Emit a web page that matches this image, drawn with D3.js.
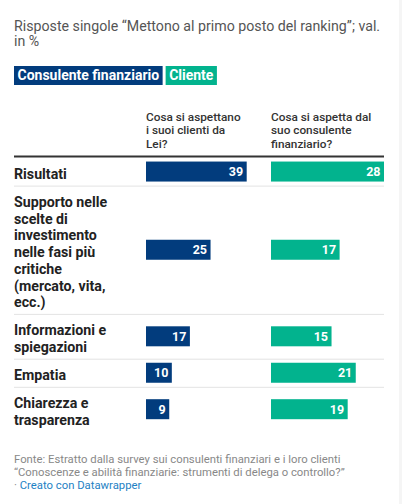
<!DOCTYPE html>
<html>
<head>
<meta charset="utf-8">
<script src="https://cdn.jsdelivr.net/npm/d3@7"></script>
<style>
  html, body { margin: 0; padding: 0; background: #fff; }
  svg { display: block; font-family: Roboto, "Noto Sans", sans-serif; }
</style>
</head>
<body>
<svg id="chart" width="402" height="504"></svg>
<script>
// ---- data ----
const subtitleLines = ["Risposte singole \u201cMettono al primo posto del ranking\u201d; val.", "in %"];
const seriesNames = ["Consulente finanziario", "Cliente"];
const columnHeaders = ["Cosa si aspettano\ni suoi clienti da\nLei?", "Cosa si aspetta dal\nsuo consulente\nfinanziario?"];
const categories = [
  "Risultati",
  "Supporto nelle\nscelte di\ninvestimento\nnelle fasi più\ncritiche\n(mercato, vita,\necc.)",
  "Informazioni e\nspiegazioni",
  "Empatia",
  "Chiarezza e\ntrasparenza"
];
const consulenteValues = [39, 25, 17, 10, 9];
const clienteValues = [28, 17, 15, 21, 19];
const footerLines = [
  "Fonte: Estratto dalla survey sui consulenti finanziari e i loro clienti",
  "\u201cConoscenze e abilità finanziarie: strumenti di delega o controllo?\u201d"
];
const creditText = "Creato con Datawrapper";

// ---- style ----
const colors = ["#023c7d", "#02b38e"];
const svg = d3.select("#chart");

svg.append("rect").attr("x", 0).attr("y", 0).attr("width", 402).attr("height", 504).attr("fill", "#fff");
svg.append("rect").attr("x", 399).attr("y", 0).attr("width", 3).attr("height", 504).attr("fill", "#f5f5f5");

// subtitle
svg.append("text")
  .attr("x", 14).attr("y", 30.5)
  .attr("fill", "#555").attr("font-size", 14.2)
  .selectAll("tspan").data(subtitleLines).join("tspan")
  .attr("x", 14).attr("dy", (d, i) => i ? 15.5 : 0)
  .text(d => d);

// legend
let lx = 14;
seriesNames.forEach((name, i) => {
  const g = svg.append("g");
  const t = g.append("text")
    .attr("x", lx + 3.5).attr("y", 80.2)
    .attr("fill", "#fff").attr("font-size", 14).attr("font-weight", 700)
    .text(name);
  const w = t.node().getComputedTextLength();
  g.insert("rect", "text")
    .attr("x", lx).attr("y", 66).attr("width", w + 7).attr("height", 19)
    .attr("fill", colors[i]);
  lx += w + 7 + 3;
});

// columns
const left = 14, right = 384;
const colStarts = [146, 271];
const colEnds = [246.7, 384];
const valueSets = [consulenteValues, clienteValues];
const xScales = valueSets.map((vals, i) =>
  d3.scaleLinear().domain([0, d3.max(vals)]).range([colStarts[i], colEnds[i]]));

// column headers
columnHeaders.forEach((h, i) => {
  svg.append("text")
    .attr("y", 120.7)
    .attr("fill", "#333").attr("font-size", 11.8).attr("font-weight", 500)
    .selectAll("tspan").data(h.split("\n")).join("tspan")
    .attr("x", colStarts[i]).attr("dy", (d, j) => j ? 13.5 : 0)
    .text(d => d);
});

// header rule
svg.append("line")
  .attr("x1", left).attr("x2", right).attr("y1", 156.5).attr("y2", 156.5)
  .attr("stroke", "#333").attr("stroke-width", 2);

// rows
const lineH = 16.7, rowPad = 11.4, barH = 20;
let y = 157.5;
const rows = categories.map((c, i) => {
  const lines = c.split("\n");
  const h = lines.length * lineH + rowPad;
  const r = { label: c, lines, top: y, h, i };
  y += h;
  return r;
});

rows.forEach((r, idx) => {
  const g = svg.append("g");
  if (idx > 0) {
    g.append("line")
      .attr("x1", left).attr("x2", right)
      .attr("y1", r.top + 0.5).attr("y2", r.top + 0.5)
      .attr("stroke", "#e3e3e3").attr("stroke-width", 1);
  }
  g.append("text")
    .attr("y", r.top + 21.4)
    .attr("fill", "#222").attr("font-size", 14.2).attr("font-weight", 700)
    .selectAll("tspan").data(r.lines).join("tspan")
    .attr("x", left).attr("dy", (d, j) => j ? lineH : 0)
    .text(d => d);

  const cy = r.top + r.h / 2;
  valueSets.forEach((vals, k) => {
    const x = xScales[k];
    const v = vals[r.i];
    g.append("rect")
      .attr("x", x(0)).attr("y", cy - barH / 2)
      .attr("width", x(v) - x(0)).attr("height", barH)
      .attr("fill", colors[k]);
    g.append("text")
      .attr("x", x(v) - 3.5).attr("y", cy + 4.3)
      .attr("text-anchor", "end")
      .attr("fill", "#fff").attr("font-size", 12.5).attr("font-weight", 700)
      .text(v);
  });
});

// footer
svg.append("text")
  .attr("y", 462.5)
  .attr("fill", "#888").attr("font-size", 11.3)
  .selectAll("tspan").data(footerLines).join("tspan")
  .attr("x", 14).attr("dy", (d, i) => i ? 13.2 : 0)
  .text(d => d);
const credit = svg.append("text")
  .attr("x", 14).attr("y", 488.8)
  .attr("font-size", 11.3);
credit.append("tspan").attr("fill", "#888").text("\u00b7 ");
credit.append("tspan").attr("fill", "#1d81c4").text(creditText);
</script>
</body>
</html>
